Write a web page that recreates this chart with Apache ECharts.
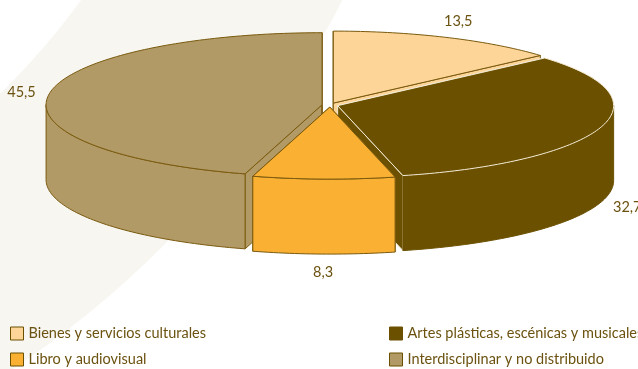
<!DOCTYPE html>
<html>
<head>
<meta charset="utf-8">
<script src="https://cdn.jsdelivr.net/npm/echarts@6/dist/echarts.min.js"></script>
<style>
html,body{margin:0;padding:0;background:#ffffff;}
#chart{width:638px;height:369px;}
</style>
</head>
<body>
<div id="chart"></div>
<script>
// ---- data ----
const categories = [
  'Bienes y servicios culturales',
  'Artes plásticas, escénicas y musicales',
  'Libro y audiovisual',
  'Interdisciplinar y no distribuido'
];
const values = [13.5, 32.7, 8.3, 45.5];
const valueLabels = ['13,5', '32,7', '8,3', '45,5'];

// ---- styles ----
const colors = ['#FDD598', '#6B5000', '#FAB033', '#B19A65'];
const strokes = ['#7A5A0E', '#F4ECD6', '#7A5A0E', '#7A5A0E'];
const wallStrokes = ['#7A5A0E', '#6B5000', '#7A5A0E', '#7A5A0E'];
const drawOrder = [0, 3, 1, 2]; // back to front
const textColor = '#6B5210';
const fontFamily = 'Lato, "Open Sans", sans-serif';
const fontSize = 14.5;

// ---- layout of the pseudo-3D pie ----
const L = { cx: 330, cy: 105, rx: 276, ry: 72, depth: 75, explode: 8 };
// legend slots: [left, top] for each category
const legendSlots = [[10, 326], [389, 326], [10, 352], [389, 352]];

const total = values.reduce((a, b) => a + b, 0);

function sliceStart(i) {
  let before = 0;
  for (let k = 0; k < i; k++) before += values[k];
  return before / total * Math.PI * 2;
}

function makeRenderer(i) {
  return function (params, api) {
    const v = api.value(0);
    const a0 = sliceStart(i);
    const a1 = a0 + v / total * Math.PI * 2;
    const mid = (a0 + a1) / 2;
    const k = L.ry / L.rx;
    const dx = L.explode * Math.sin(mid);
    const dy = -L.explode * k * Math.cos(mid);
    const P = (t, h) => [L.cx + dx + L.rx * Math.sin(t), L.cy + dy - L.ry * Math.cos(t) + h];
    const C = (h) => [L.cx + dx, L.cy + dy + h];
    const arc = (s, e, h) => {
      const n = Math.max(2, Math.ceil(Math.abs(e - s) / 0.02));
      const pts = [];
      for (let j = 0; j <= n; j++) pts.push(P(s + (e - s) * j / n, h));
      return pts;
    };
    const D = L.depth;
    const style = { fill: colors[i], stroke: strokes[i], lineWidth: 1, lineJoin: 'round' };
    const wallStyle = { fill: colors[i], stroke: wallStrokes[i], lineWidth: 1, lineJoin: 'round' };
    const children = [];
    // radial cut faces
    children.push({ type: 'polygon', shape: { points: [C(0), P(a0, 0), P(a0, D), C(D)] }, style: style });
    children.push({ type: 'polygon', shape: { points: [C(0), P(a1, 0), P(a1, D), C(D)] }, style: style });
    // outer wall (front half only)
    const s = Math.max(a0, Math.PI / 2), e = Math.min(a1, Math.PI * 1.5);
    if (e > s) {
      const pts = arc(s, e, 0).concat(arc(e, s, D));
      children.push({ type: 'polygon', shape: { points: pts }, style: wallStyle });
    }
    // top face
    children.push({ type: 'polygon', shape: { points: [C(0)].concat(arc(a0, a1, 0)) }, style: style });
    // value label
    const front = Math.cos(mid) < 0;
    const lx = L.cx + dx + L.rx * 1.1 * Math.sin(mid);
    const ly = L.cy + dy - L.ry * 1.25 * Math.cos(mid) + (front ? D : 0);
    children.push({
      type: 'text',
      style: {
        text: valueLabels[i], x: lx, y: ly, fill: textColor,
        font: fontSize + 'px ' + fontFamily, align: 'center', verticalAlign: 'middle'
      }
    });
    return { type: 'group', children: children };
  };
}

const series = categories.map((name, i) => ({
  type: 'custom',
  name: name,
  coordinateSystem: 'none',
  z: 2 + drawOrder.indexOf(i),
  itemStyle: { color: colors[i], borderColor: '#6B5000', borderWidth: 1 },
  data: [values[i]],
  renderItem: makeRenderer(i),
  silent: true
}));

const legends = categories.map((name, i) => ({
  left: legendSlots[i][0], top: legendSlots[i][1],
  orient: 'horizontal', icon: 'rect', itemWidth: 13, itemHeight: 13,
  padding: 0, selectedMode: false,
  itemStyle: { borderColor: '#6B5000', borderWidth: 1 },
  textStyle: { color: textColor, fontSize: fontSize, fontFamily: fontFamily },
  data: [name]
}));

const chart = echarts.init(document.getElementById('chart'), null, { renderer: 'canvas' });
chart.setOption({
  animation: false,
  backgroundColor: '#ffffff',
  graphic: [{
    type: 'ring', silent: true, z: -10,
    shape: { cx: -532, cy: -449, r: 983, r0: 760 },
    style: { fill: '#F7F6F1' }
  }],
  legend: legends,
  series: series
});
</script>
</body>
</html>
